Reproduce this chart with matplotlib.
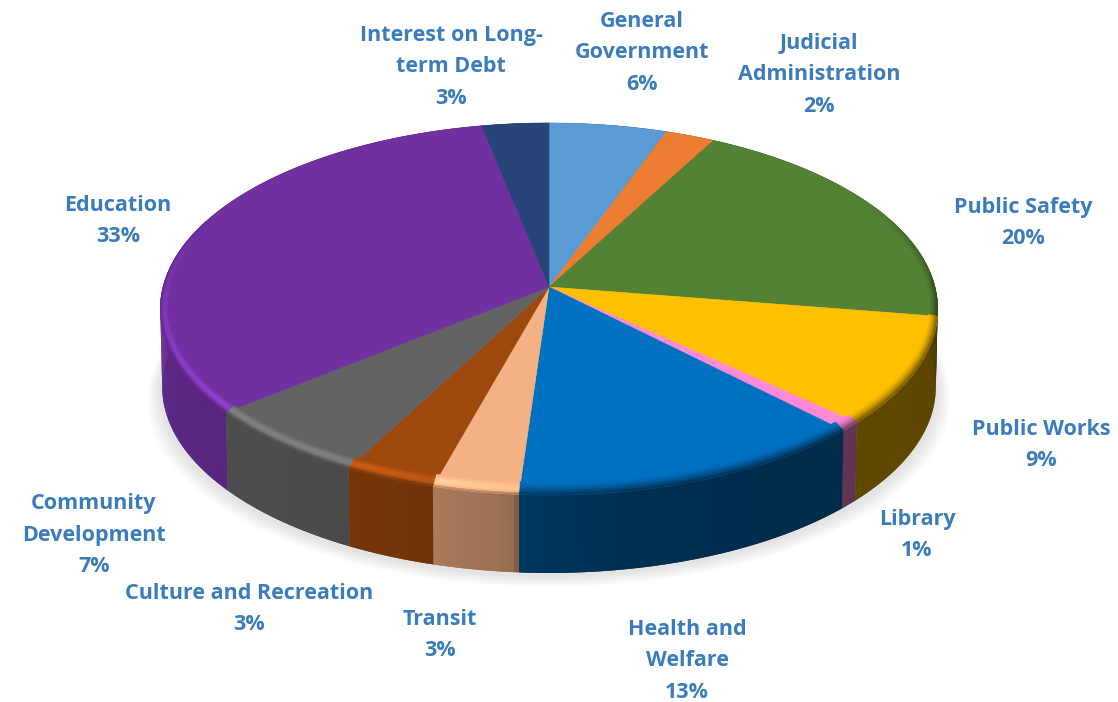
import numpy as np
import matplotlib
matplotlib.use("Agg")
import matplotlib.pyplot as plt
from matplotlib.collections import PolyCollection
from matplotlib.colors import to_rgb

categories = ["General\nGovernment", "Judicial\nAdministration", "Public Safety", "Public Works",
              "Library", "Health and\nWelfare", "Transit", "Culture and Recreation",
              "Community\nDevelopment", "Education", "Interest on Long-\nterm Debt"]
values = [5.5, 2.3, 19.7, 9.4, 0.8, 13.4, 3.2, 3.4, 6.4, 32.8, 3.1]
percent_labels = ["6%", "2%", "20%", "9%", "1%", "13%", "3%", "3%", "7%", "33%", "3%"]
colors = ["#5B9BD5", "#ED7D31", "#548235", "#FFC000", "#FF8AD8", "#0070C0",
          "#F4B183", "#9E480E", "#636363", "#7030A0", "#264478"]
label_x = [642, 819, 1023, 1041, 917, 687, 440, 249, 94, 118, 451]
label_y = [53, 75, 223, 445, 535, 661, 635, 609, 535, 221, 67]

CX, CY = 549.0, 287.0
A, B, K = 183.4, 386.0, 0.118
DEPTH = 78.0
TEXT = "#3B7CBC"


def project(theta, su=1.0, sv=1.0):
    u, v = np.sin(theta) * su, np.cos(theta) * sv
    d = 1 + K * v
    return CX + B * u / d, CY - A * v / d


def lower(x, y):
    return CX + 0.995 * (x - CX), y + DEPTH


def side_factor(deg):
    return np.interp(deg, [0, 90, 135, 170, 184, 185, 200, 215, 240, 270, 360],
                     [0.35, 0.35, 0.38, 0.42, 0.50, 0.62, 0.73, 0.76, 0.80, 0.87, 0.87])


def lip_amount(deg):
    return np.interp(deg, [0, 60, 100, 170, 183.8, 184.2, 205, 235, 265, 292, 360],
                     [0, 0, -0.6, -0.75, -0.75, 0.10, 0.28, 0.3, 0.14, 0, 0])


fig = plt.figure(figsize=(11.18, 7.02), dpi=100, facecolor="white")
ax = fig.add_axes([0, 0, 1, 1])
ax.set_xlim(0, 1118)
ax.set_ylim(702, 0)
ax.axis("off")

full = np.radians(np.linspace(0, 360, 361))
for i in range(14):
    grow = 15 - i
    x, y = lower(*project(full))
    ax.fill(CX + (x - CX) * (1 + grow / 389), y + 2 + grow * 0.8, color="#000000",
            alpha=0.009, lw=0, zorder=1)

edges = np.concatenate([[0], np.cumsum(values)]) / np.sum(values) * 360
side_polys, side_cols = [], []
rim_polys, rim_cols = [], []
RINGS = np.linspace(1, 0, 9)
for k, (a0, a1) in enumerate(zip(edges[:-1], edges[1:])):
    base = np.array(to_rgb(colors[k]))
    deg = np.linspace(a0, a1, max(3, int((a1 - a0) * 1.5) + 2))
    th = np.radians(deg)
    xs, ys = project(np.concatenate([[0], th]))
    xs[0], ys[0] = CX, CY
    ax.fill(xs, ys, color=colors[k], lw=0.4, zorder=3)
    # solid underlay so that seams between the shaded quads stay invisible
    xt, yt = project(th)
    xb, yb = lower(xt, yt)
    ax.fill(np.r_[xt, xb[::-1]], np.r_[yt, yb[::-1]],
            color=base * side_factor(0.5 * (a0 + a1)), lw=0, zorder=1.5)
    for d0, d1 in zip(deg[:-1], deg[1:]):
        mid = 0.5 * (d0 + d1)
        t0, t1 = np.radians(d0), np.radians(d1)
        x0, y0 = project(t0)
        x1, y1 = project(t1)
        xb0, yb0 = lower(x0, y0)
        xb1, yb1 = lower(x1, y1)
        fac = side_factor(mid)
        scol = base * fac
        side_polys.append([(x0, y0), (x1, y1), (xb1, yb1), (xb0, yb0)])
        side_cols.append(scol)
        amt = lip_amount(mid)
        if amt == 0:
            continue
        for s0, s1 in zip(RINGS[:-1], RINGS[1:]):
            sm = 0.5 * (s0 + s1)
            su0, sv0 = 1 - 0.022 * s0, 1 - 0.055 * s0
            su1, sv1 = 1 - 0.022 * s1, 1 - 0.055 * s1
            pa = project(t0, su0, sv0)
            pb = project(t1, su0, sv0)
            pc = project(t1, su1, sv1)
            pd = project(t0, su1, sv1)
            if amt > 0:
                w = np.sin(np.pi * (1 - sm)) ** 1.5
                col = np.clip(base * (1 + amt * w) + 0.03 * amt * w, 0, 1)
                if sm < 0.2:
                    col = col * (1 - (0.2 - sm) / 0.2) + scol * (0.2 - sm) / 0.2
            else:
                w = (1 - sm) ** 1.6
                col = base + (scol - base) * w * min(1.0, -amt * 1.4)
            rim_polys.append([pa, pb, pc, pd])
            rim_cols.append(col)

ax.add_collection(PolyCollection(side_polys, facecolors=side_cols, linewidths=0, zorder=2))
ax.add_collection(PolyCollection(rim_polys, facecolors=rim_cols, edgecolors=rim_cols,
                                 linewidths=0.3, zorder=4))

for name, pct, lx, ly in zip(categories, percent_labels, label_x, label_y):
    ax.text(lx, ly, name + "\n" + pct, ha="center", va="center", color=TEXT,
            fontsize=15.5, fontfamily="Open Sans", fontweight="bold",
            linespacing=1.66, zorder=6)

fig.savefig("out.png", dpi=100, facecolor="white")
